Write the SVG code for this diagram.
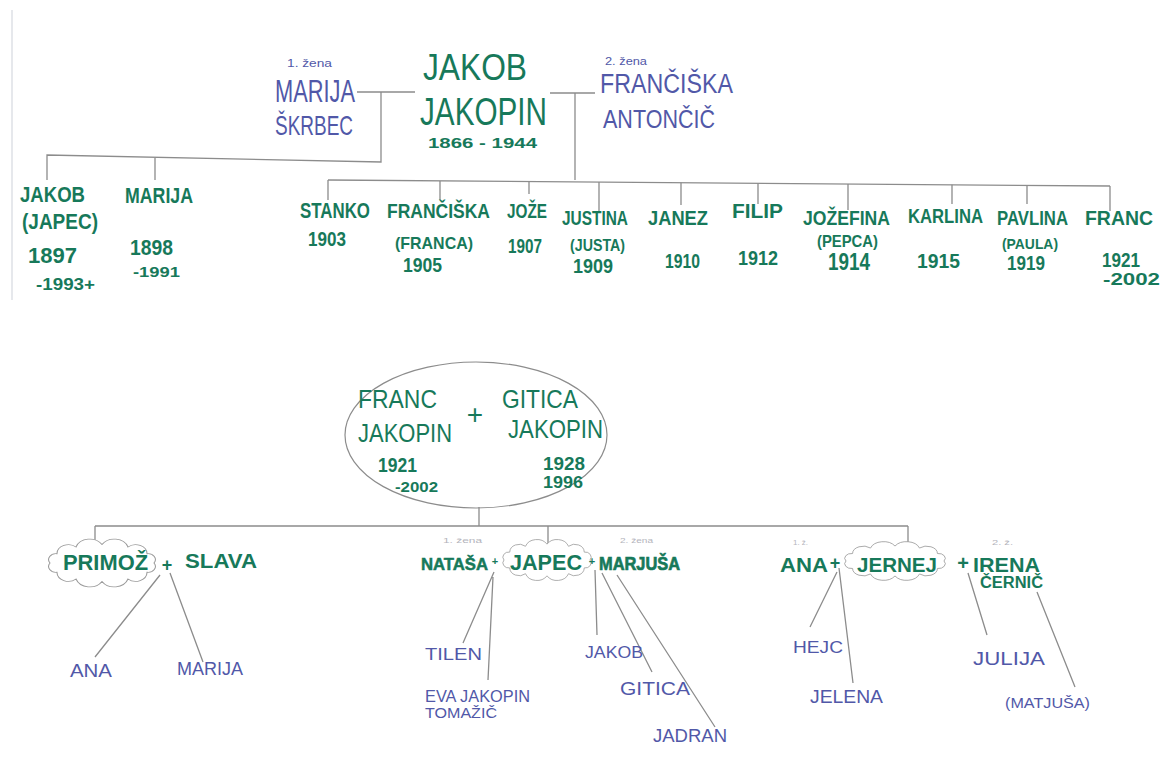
<svg xmlns="http://www.w3.org/2000/svg" xmlns:xlink="http://www.w3.org/1999/xlink" width="1168" height="772" viewBox="0 0 1168 772">
<style>
text{font-family:"Liberation Sans","DejaVu Sans",sans-serif}
.g{fill:#17795a;font-weight:bold}
.gn{fill:#17795a}
.b{fill:#5158a8}
.f{fill:#b4b4bc;font-size:8px}
.ln{stroke:#8c8c8c;stroke-width:1.3;fill:none}
.cl{stroke:#9a9a9a;stroke-width:1;fill:#fff}
</style>
<defs>
<path id="cloud" d="M50,0 A7,7 0 0 1 43.3,11 A11,11 0 0 1 25,19.05 A14,14 0 0 1 0,22 A14,14 0 0 1 -25,19.05 A11,11 0 0 1 -43.3,11 A7,7 0 0 1 -50,0 A7,7 0 0 1 -43.3,-11 A11,11 0 0 1 -25,-19.05 A14,14 0 0 1 0,-22 A14,14 0 0 1 25,-19.05 A11,11 0 0 1 43.3,-11 A7,7 0 0 1 50,0 Z"/>
</defs>
<rect width="1168" height="772" fill="#fff"/>
<line x1="12" y1="10" x2="12" y2="300" stroke="#e6e8ec" stroke-width="2"/>

<g id="connectors" class="ln">
<path d="M357,92 H415 M381,92 V162 L47,155 V180 M155,158 V180"/>
<path d="M550,93 H595 M575,93 V180"/>
<path d="M328,180 L1110,186"/>
<path d="M328,180 V200 M440,181 V200 M529,181.5 V194 M599,182 V211 M681,182.7 V205 M758,183.3 V204 M848,184 V210 M952,184.8 V204 M1027,185.4 V204 M1110,186 V211"/>
<path d="M479,507 V526 M95,526 H908 M95,526 V552 M548,526 V550 M908,526 V547"/>
<path d="M160,575 L95,657 M170,573 L203,662"/>
<path d="M494,572 L463,643 M493,577 L488,680 M595,570 L597,635 M602,573 L652,672 M617,575 L715,727"/>
<path d="M837,572 L810,627 M839,568 L853,683 M968,573 L987,635 M1037,592 L1075,687"/>
</g>

<g id="jakob-jakopin">
<text class="gn" x="423" y="80" font-size="37" textLength="104" lengthAdjust="spacingAndGlyphs">JAKOB</text>
<text class="gn" x="420" y="125" font-size="38" textLength="127" lengthAdjust="spacingAndGlyphs">JAKOPIN</text>
<text class="g" x="428" y="148" font-size="15" textLength="109" lengthAdjust="spacingAndGlyphs">1866 - 1944</text>
</g>
<g id="marija-skrbec">
<text class="b" x="287" y="67" font-size="11" textLength="45" lengthAdjust="spacingAndGlyphs">1. žena</text>
<text class="b" x="275" y="102" font-size="31" textLength="80" lengthAdjust="spacingAndGlyphs">MARIJA</text>
<text class="b" x="275" y="135" font-size="28" textLength="78" lengthAdjust="spacingAndGlyphs">ŠKRBEC</text>
</g>
<g id="franciska-antoncic">
<text class="b" x="605" y="65" font-size="11" textLength="42" lengthAdjust="spacingAndGlyphs">2. žena</text>
<text class="b" x="600" y="93" font-size="27" textLength="133" lengthAdjust="spacingAndGlyphs">FRANČIŠKA</text>
<text class="b" x="603" y="128" font-size="25" textLength="112" lengthAdjust="spacingAndGlyphs">ANTONČIČ</text>
</g>

<g id="c-jakob"><text class="g" x="20" y="202" font-size="22" textLength="65" lengthAdjust="spacingAndGlyphs">JAKOB</text>
<text class="g" x="22" y="229" font-size="22" textLength="76" lengthAdjust="spacingAndGlyphs">(JAPEC)</text>
<text class="g" x="28" y="263" font-size="22" textLength="49" lengthAdjust="spacingAndGlyphs">1897</text>
<text class="g" x="36" y="290" font-size="17" textLength="59" lengthAdjust="spacingAndGlyphs">-1993+</text></g>
<g id="c-marija"><text class="g" x="125" y="203" font-size="22" textLength="68" lengthAdjust="spacingAndGlyphs">MARIJA</text>
<text class="g" x="130" y="255" font-size="22" textLength="43" lengthAdjust="spacingAndGlyphs">1898</text>
<text class="g" x="133" y="277" font-size="15" textLength="47" lengthAdjust="spacingAndGlyphs">-1991</text></g>
<g id="c-stanko"><text class="g" x="300" y="218" font-size="22" textLength="70" lengthAdjust="spacingAndGlyphs">STANKO</text>
<text class="g" x="308" y="246" font-size="20" textLength="38" lengthAdjust="spacingAndGlyphs">1903</text></g>
<g id="c-franciska"><text class="g" x="387" y="218" font-size="21" textLength="103" lengthAdjust="spacingAndGlyphs">FRANČIŠKA</text>
<text class="g" x="395" y="249" font-size="17" textLength="78" lengthAdjust="spacingAndGlyphs">(FRANCA)</text>
<text class="g" x="403" y="272" font-size="21" textLength="39" lengthAdjust="spacingAndGlyphs">1905</text></g>
<g id="c-joze"><text class="g" x="507" y="218" font-size="21" textLength="40" lengthAdjust="spacingAndGlyphs">JOŽE</text>
<text class="g" x="508" y="253" font-size="21" textLength="34" lengthAdjust="spacingAndGlyphs">1907</text></g>
<g id="c-justina"><text class="g" x="562" y="225" font-size="21" textLength="66" lengthAdjust="spacingAndGlyphs">JUSTINA</text>
<text class="g" x="570" y="251" font-size="17" textLength="55" lengthAdjust="spacingAndGlyphs">(JUSTA)</text>
<text class="g" x="573" y="273" font-size="21" textLength="40" lengthAdjust="spacingAndGlyphs">1909</text></g>
<g id="c-janez"><text class="g" x="648" y="225" font-size="21" textLength="60" lengthAdjust="spacingAndGlyphs">JANEZ</text>
<text class="g" x="665" y="268" font-size="21" textLength="35" lengthAdjust="spacingAndGlyphs">1910</text></g>
<g id="c-filip"><text class="g" x="732" y="218" font-size="20" textLength="51" lengthAdjust="spacingAndGlyphs">FILIP</text>
<text class="g" x="738" y="265" font-size="21" textLength="40" lengthAdjust="spacingAndGlyphs">1912</text></g>
<g id="c-jozefina"><text class="g" x="803" y="225" font-size="21" textLength="87" lengthAdjust="spacingAndGlyphs">JOŽEFINA</text>
<text class="g" x="817" y="247" font-size="17" textLength="61" lengthAdjust="spacingAndGlyphs">(PEPCA)</text>
<text class="g" x="828" y="270" font-size="23" textLength="42" lengthAdjust="spacingAndGlyphs">1914</text></g>
<g id="c-karlina"><text class="g" x="908" y="223" font-size="21" textLength="75" lengthAdjust="spacingAndGlyphs">KARLINA</text>
<text class="g" x="917" y="268" font-size="21" textLength="43" lengthAdjust="spacingAndGlyphs">1915</text></g>
<g id="c-pavlina"><text class="g" x="997" y="225" font-size="21" textLength="71" lengthAdjust="spacingAndGlyphs">PAVLINA</text>
<text class="g" x="1002" y="249" font-size="15" textLength="56" lengthAdjust="spacingAndGlyphs">(PAULA)</text>
<text class="g" x="1007" y="270" font-size="21" textLength="38" lengthAdjust="spacingAndGlyphs">1919</text></g>
<g id="c-franc"><text class="g" x="1085" y="225" font-size="21" textLength="68" lengthAdjust="spacingAndGlyphs">FRANC</text>
<text class="g" x="1102" y="267" font-size="21" textLength="38" lengthAdjust="spacingAndGlyphs">1921</text>
<text class="g" x="1103" y="285" font-size="16" textLength="57" lengthAdjust="spacingAndGlyphs">-2002</text></g>

<g id="franc-gitica">
<ellipse cx="476" cy="435" rx="131" ry="73" fill="none" stroke="#8c8c8c" stroke-width="1.2"/>
<text class="gn" x="358" y="408" font-size="26" textLength="79" lengthAdjust="spacingAndGlyphs">FRANC</text>
<text class="gn" x="358" y="442" font-size="26" textLength="94" lengthAdjust="spacingAndGlyphs">JAKOPIN</text>
<text class="gn" x="475" y="424" font-size="28" text-anchor="middle">+</text>
<text class="gn" x="502" y="408" font-size="25" textLength="76" lengthAdjust="spacingAndGlyphs">GITICA</text>
<text class="gn" x="508" y="438" font-size="25" textLength="95" lengthAdjust="spacingAndGlyphs">JAKOPIN</text>
<text class="g" x="378" y="472" font-size="20" textLength="39" lengthAdjust="spacingAndGlyphs">1921</text>
<text class="g" x="395" y="492" font-size="15" textLength="43" lengthAdjust="spacingAndGlyphs">-2002</text>
<text class="g" x="543" y="470" font-size="19" textLength="42" lengthAdjust="spacingAndGlyphs">1928</text>
<text class="g" x="543" y="488" font-size="16" textLength="40" lengthAdjust="spacingAndGlyphs">1996</text>
</g>

<g id="primoz-slava">
<use href="#cloud" class="cl" vector-effect="non-scaling-stroke" transform="translate(102,563) scale(1.04,0.84)"/>
<text class="g" x="63" y="570" font-size="22" textLength="85" lengthAdjust="spacingAndGlyphs">PRIMOŽ</text>
<text class="g" x="167" y="571" font-size="18" text-anchor="middle">+</text>
<text class="g" x="185" y="568" font-size="21" textLength="72" lengthAdjust="spacingAndGlyphs">SLAVA</text>
</g>
<g id="k-ana"><text class="b" x="70" y="677" font-size="19" textLength="42" lengthAdjust="spacingAndGlyphs">ANA</text></g>
<g id="k-marija"><text class="b" x="177" y="675" font-size="19" textLength="66" lengthAdjust="spacingAndGlyphs">MARIJA</text></g>

<g id="natasa-japec-marjusa">
<use href="#cloud" class="cl" vector-effect="non-scaling-stroke" transform="translate(547,560) scale(0.86,0.72)"/>
<text class="f" x="443" y="543" textLength="39" lengthAdjust="spacingAndGlyphs">1. žena</text>
<text class="g" x="421" y="570" font-size="16.5" textLength="67" lengthAdjust="spacingAndGlyphs" stroke="#17795a" stroke-width="0.5">NATAŠA</text>
<text class="g" x="495" y="565" font-size="11" text-anchor="middle">+</text>
<text class="g" x="510" y="570" font-size="22" textLength="72" lengthAdjust="spacingAndGlyphs">JAPEC</text>
<text class="g" x="592" y="565" font-size="11" text-anchor="middle">+</text>
<text class="f" x="620" y="543" textLength="33" lengthAdjust="spacingAndGlyphs">2. žena</text>
<text class="g" x="599" y="570" font-size="19" textLength="81" lengthAdjust="spacingAndGlyphs" stroke="#17795a" stroke-width="0.7">MARJUŠA</text>
</g>
<g id="k-tilen"><text class="b" x="425" y="660" font-size="17" textLength="57" lengthAdjust="spacingAndGlyphs">TILEN</text></g>
<g id="k-eva"><text class="b" x="425" y="702" font-size="16" textLength="105" lengthAdjust="spacingAndGlyphs">EVA JAKOPIN</text>
<text class="b" x="425" y="718" font-size="15" textLength="72" lengthAdjust="spacingAndGlyphs">TOMAŽIČ</text></g>
<g id="k-jakob"><text class="b" x="585" y="658" font-size="16" textLength="58" lengthAdjust="spacingAndGlyphs">JAKOB</text></g>
<g id="k-gitica"><text class="b" x="620" y="695" font-size="18" textLength="70" lengthAdjust="spacingAndGlyphs">GITICA</text></g>
<g id="k-jadran"><text class="b" x="653" y="742" font-size="19" textLength="74" lengthAdjust="spacingAndGlyphs">JADRAN</text></g>

<g id="ana-jernej-irena">
<use href="#cloud" class="cl" vector-effect="non-scaling-stroke" transform="translate(895,561) scale(0.98,0.68)"/>
<text class="f" x="793" y="545" textLength="15" lengthAdjust="spacingAndGlyphs">1. ž.</text>
<text class="g" x="780" y="572" font-size="20" textLength="48" lengthAdjust="spacingAndGlyphs">ANA</text>
<text class="g" x="835" y="569" font-size="18" text-anchor="middle">+</text>
<text class="g" x="857" y="572" font-size="20" textLength="80" lengthAdjust="spacingAndGlyphs">JERNEJ</text>
<text class="g" x="963" y="570" font-size="20" text-anchor="middle">+</text>
<text class="f" x="992" y="545" textLength="21" lengthAdjust="spacingAndGlyphs">2. ž.</text>
<text class="g" x="973" y="572" font-size="20" textLength="67" lengthAdjust="spacingAndGlyphs">IRENA</text>
<text class="g" x="980" y="588" font-size="16" textLength="63" lengthAdjust="spacingAndGlyphs">ČERNIČ</text>
</g>
<g id="k-hejc"><text class="b" x="793" y="653" font-size="16" textLength="50" lengthAdjust="spacingAndGlyphs">HEJC</text></g>
<g id="k-jelena"><text class="b" x="810" y="703" font-size="19" textLength="73" lengthAdjust="spacingAndGlyphs">JELENA</text></g>
<g id="k-julija"><text class="b" x="973" y="665" font-size="18" textLength="72" lengthAdjust="spacingAndGlyphs">JULIJA</text></g>
<g id="k-matjusa"><text class="b" x="1005" y="708" font-size="15" textLength="85" lengthAdjust="spacingAndGlyphs">(MATJUŠA)</text></g>
</svg>
